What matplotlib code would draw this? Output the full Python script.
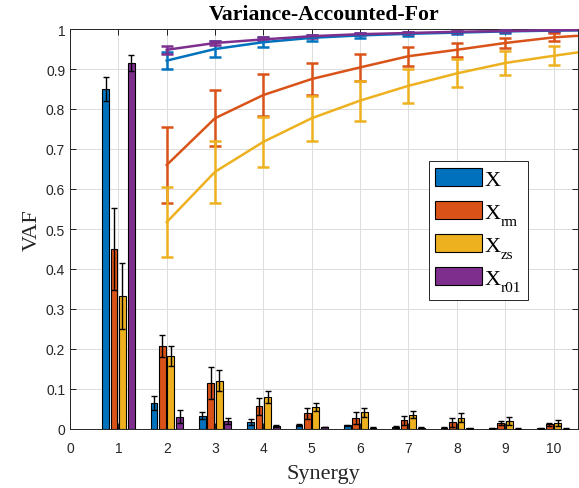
import numpy as np
import matplotlib
matplotlib.use("Agg")
import matplotlib.pyplot as plt
from matplotlib.patches import Rectangle

plt.rcParams['font.family'] = ['Liberation Sans', 'DejaVu Sans']

# Données : VAF par synergie (barres) et VAF cumulée (courbes)
synergies = np.arange(1, 11)
subscripts = ["", "rm", "zs", "r01"]
colors = ['#0072BD', '#D95319', '#EDB120', '#7E2F8E']

bar_X = [0.85, 0.065, 0.033, 0.018, 0.010, 0.009, 0.005, 0.003, 0.002, 0.002]
bar_X_err = [0.03, 0.018, 0.009, 0.007, 0.003, 0.002, 0.002, 0.001, 0.001, 0.001]
bar_rm = [0.45, 0.208, 0.115, 0.057, 0.039, 0.028, 0.022, 0.017, 0.015, 0.012]
bar_rm_err = [0.103, 0.027, 0.04, 0.021, 0.014, 0.015, 0.011, 0.011, 0.006, 0.004]
bar_zs = [0.333, 0.182, 0.121, 0.08, 0.056, 0.042, 0.036, 0.028, 0.02, 0.015]
bar_zs_err = [0.083, 0.025, 0.027, 0.015, 0.01, 0.011, 0.009, 0.011, 0.01, 0.008]
bar_r01 = [0.915, 0.031, 0.02, 0.008, 0.005, 0.003, 0.003, 0.002, 0.001, 0.001]
bar_r01_err = [0.02, 0.016, 0.008, 0.002, 0.001, 0.001, 0.001, 0.001, 0.001, 0.001]

cum_syn = np.arange(2, 12)
cum_X = [0.921, 0.95, 0.967, 0.978, 0.984, 0.988, 0.991, 0.994, 0.996, 0.997]
cum_X_err = [0.022, 0.02, 0.012, 0.008, 0.006, 0.005, 0.004, 0.004, 0.004, 0.003]
cum_rm = [0.66, 0.777, 0.835, 0.875, 0.904, 0.932, 0.948, 0.965, 0.979, 0.987]
cum_rm_err = [0.095, 0.07, 0.053, 0.04, 0.033, 0.024, 0.018, 0.013, 0.01, 0.008]
cum_zs = [0.517, 0.643, 0.718, 0.777, 0.821, 0.858, 0.889, 0.915, 0.933, 0.95]
cum_zs_err = [0.087, 0.078, 0.063, 0.056, 0.05, 0.042, 0.035, 0.03, 0.024, 0.02]
cum_r01 = [0.948, 0.965, 0.974, 0.982, 0.987, 0.99, 0.993, 0.995, 0.997, 0.998]
cum_r01_err = [0.01, 0.006, 0.005, 0.004, 0.003, 0.003, 0.002, 0.002, 0.002, 0.002]

bars = [(bar_X, bar_X_err), (bar_rm, bar_rm_err), (bar_zs, bar_zs_err), (bar_r01, bar_r01_err)]
curves = [(cum_X, cum_X_err), (cum_rm, cum_rm_err), (cum_zs, cum_zs_err), (cum_r01, cum_r01_err)]

fig = plt.figure(figsize=(5.79, 4.89), dpi=100)
ax = fig.add_axes([70/579, 59/489, 507.7/579, 400/489])

width = 0.14
offsets = [-0.265, -0.09, 0.085, 0.265]
handles = []
for (vals, err), off, c in zip(bars, offsets, colors):
    h = ax.bar(synergies + off, vals, width, color=c, edgecolor='black', linewidth=0.8, zorder=3)
    ax.errorbar(synergies + off, vals, yerr=err, fmt='none', ecolor='black',
                elinewidth=1, capsize=2.5, capthick=1, zorder=4)
    handles.append(h)

for (vals, err), c in zip(curves, colors):
    ax.errorbar(cum_syn, vals, yerr=err, color=c, linewidth=1.8, elinewidth=1.8,
                capsize=4, capthick=1.8, zorder=5)

ax.set_xlim(0, 10.5)
ax.set_ylim(0, 1)
ax.set_xticks(np.arange(0, 11))
ax.set_yticks(np.arange(0, 1.01, 0.1))
ax.set_yticklabels(['0'] + [f"{v:.1f}" for v in np.arange(0.1, 0.95, 0.1)] + ['1'])
ax.tick_params(direction='in', top=True, right=True, labelsize=10, length=4, width=0.6,
               labelcolor='#262626')
ax.tick_params(axis='x', pad=8.5)
ax.grid(True, color='#dcdcdc', linewidth=0.7, zorder=0)
ax.set_axisbelow(True)
for s in ax.spines.values():
    s.set_linewidth(0.7)
    s.set_color('#262626')

ax.set_title("Variance-Accounted-For", family='Liberation Serif', fontweight='bold',
             fontsize=15.7, pad=7)
ax.set_xlabel("Synergy", family='Liberation Serif', fontsize=16, labelpad=6.5, color='#262626')
ax.set_ylabel("VAF", family='Liberation Serif', fontsize=16, labelpad=3, color='#262626')

# Légende : "X" + indices posés à la main (plus bas que mathtext), cadre dessiné à part
leg = fig.legend(handles=handles, labels=["X"] * 4, loc='upper left',
                 bbox_to_anchor=(428.7/579, 1 - 162/489),
                 prop={'family': 'Liberation Serif', 'size': 16}, frameon=False,
                 handlelength=2.1, handleheight=0.9, labelspacing=0.5,
                 borderpad=0.3, handletextpad=0.1, borderaxespad=0)
leg.set_zorder(5)

fig.canvas.draw()
r = fig.canvas.get_renderer()
W, H = fig.bbox.width, fig.bbox.height
subs = []
for t, s in zip(leg.get_texts(), subscripts):
    if not s:
        continue
    bb = t.get_window_extent(r)
    subs.append(fig.text((bb.x1 + 0.5) / W, (bb.y0 - 2.5) / H, s, family='Liberation Serif',
                         fontsize=11, ha='left', va='baseline', zorder=6))

fig.canvas.draw()
lb = leg.get_window_extent(r)
x1 = max(st.get_window_extent(r).x1 for st in subs) + 7
y0 = min(lb.y0, min(st.get_window_extent(r).y0 for st in subs) - 6)
frame = Rectangle((lb.x0 / W, y0 / H), (x1 - lb.x0) / W, (lb.y1 - y0) / H,
                  transform=fig.transFigure, facecolor='white', edgecolor='#262626',
                  linewidth=0.7, zorder=4)
fig.add_artist(frame)

fig.savefig("out.png", dpi=100)
